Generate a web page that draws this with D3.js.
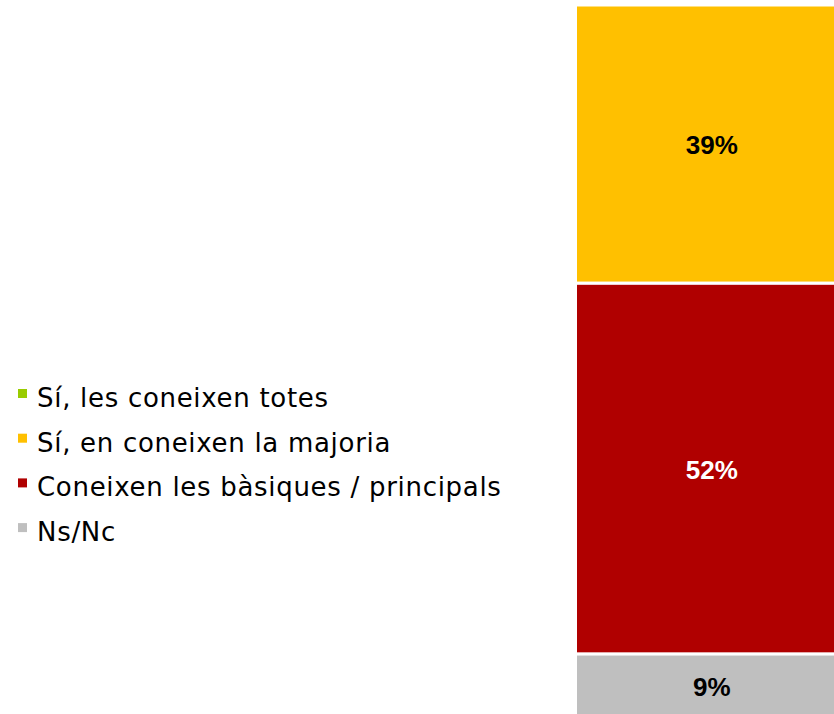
<!DOCTYPE html>
<html>
<head>
<meta charset="utf-8">
<script src="https://cdn.jsdelivr.net/npm/d3@7"></script>
<style>
body{margin:0;background:#fff;}
svg{display:block;}
</style>
</head>
<body>
<svg id="chart"></svg>
<script>
// dades
var categories = ["Sí, les coneixen totes", "Sí, en coneixen la majoria", "Coneixen les bàsiques / principals", "Ns/Nc"];
var values = [0, 39, 52, 9];
var colors = ["#99CC00", "#FFC000", "#B00000", "#BFBFBF"];
var labelColors = ["#000", "#000", "#fff", "#000"];

var W = 834, H = 714;
var svg = d3.select("#chart").attr("width", W).attr("height", H);

// la barra continua una mica fora de la imatge per la dreta
var x = d3.scaleBand().domain(["total"]).range([575.5, 848]).padding(0);
var y = d3.scaleLinear().domain([0, 100]).range([718, 5]);

// apilar de baix a dalt: Ns/Nc, bàsiques, majoria, totes
var stackOrder = [3, 2, 1, 0];
var segs = [], acc = 0;
stackOrder.forEach(function(i){
    segs.push({i:i, y0:acc, y1:acc+values[i]});
    acc += values[i];
});

var g = svg.append("g");
g.selectAll("rect")
    .data(segs.filter(function(d){ return d.y1 > d.y0; }))
    .enter().append("rect")
    .attr("x", x("total"))
    .attr("width", x.bandwidth())
    .attr("y", function(d){ return y(d.y1); })
    .attr("height", function(d){ return y(d.y0) - y(d.y1); })
    .attr("fill", function(d){ return colors[d.i]; })
    .attr("stroke", "#fff")
    .attr("stroke-width", 3);

g.selectAll("text")
    .data(segs.filter(function(d){ return d.y1 > d.y0; }))
    .enter().append("text")
    .attr("x", x("total") + x.bandwidth()/2)
    .attr("y", function(d){ return (y(d.y0) + y(d.y1))/2 + 1; })
    .attr("dy", "0.36em")
    .attr("text-anchor", "middle")
    .style("font-family", "Liberation Sans, Arial, sans-serif")
    .style("font-weight", "bold")
    .style("font-size", "26px")
    .attr("fill", function(d){ return labelColors[d.i]; })
    .text(function(d){ return values[d.i] + "%"; });

// llegenda
var legend = svg.append("g");
var lg = legend.selectAll("g")
    .data(categories)
    .enter().append("g")
    .attr("transform", function(d, i){ return "translate(0," + (407 + i*44.7) + ")"; });
lg.append("rect")
    .attr("x", 18)
    .attr("y", -18)
    .attr("width", 9)
    .attr("height", 9)
    .attr("fill", function(d, i){ return colors[i]; });
lg.append("text")
    .attr("x", 37)
    .attr("y", 0)
    .style("font-family", "DejaVu Sans, sans-serif")
    .style("font-size", "26px")
    .style("letter-spacing", "0.7px")
    .attr("fill", "#000")
    .text(function(d){ return d; });
</script>
</body>
</html>
